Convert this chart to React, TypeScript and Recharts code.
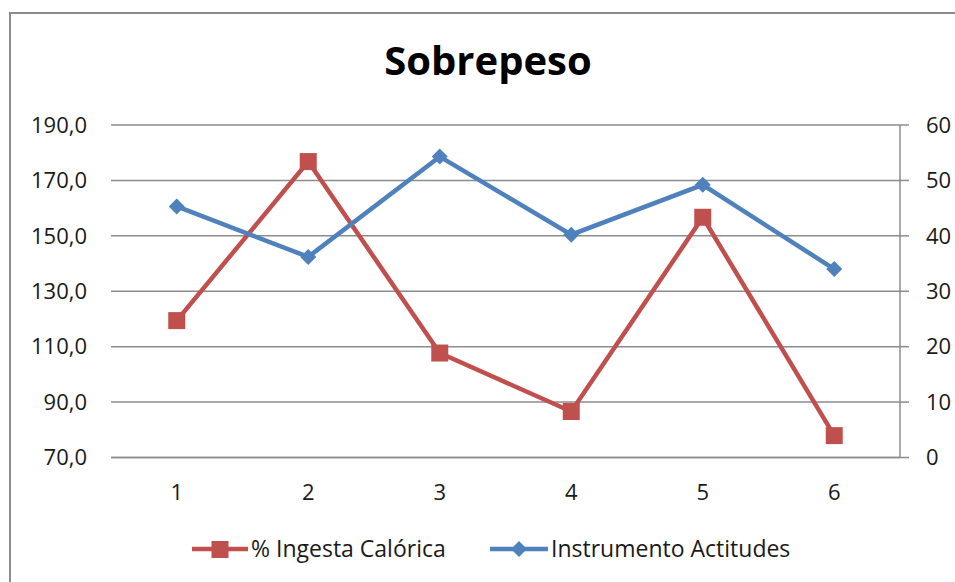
import React from "react";
import { LineChart, Line, XAxis, YAxis, CartesianGrid, Legend } from "recharts";

const categories = ["1", "2", "3", "4", "5", "6"];
const ingesta = [119.4, 176.8, 107.7, 86.6, 156.7, 77.9];
const actitudes = [45.3, 36.2, 54.3, 40.2, 49.2, 34.0];
const leftTicks = [70, 90, 110, 130, 150, 170, 190];
const rightTicks = [0, 10, 20, 30, 40, 50, 60];

const RED = "#C0504D";
const BLUE = "#4F81BD";
const GRID = "#8c8c8c";
const FONT = "'Open Sans', sans-serif";

const data = categories.map((c, i) => ({ cat: c, ingesta: ingesta[i], actitudes: actitudes[i] }));

// eslint-disable-next-line @typescript-eslint/no-explicit-any
function SquareDot({ cx, cy }: any) {
  if (cx == null || cy == null) return null;
  return <rect x={cx - 8.5} y={cy - 8.5} width={17} height={17} fill={RED} />;
}

// eslint-disable-next-line @typescript-eslint/no-explicit-any
function DiamondDot({ cx, cy }: any) {
  if (cx == null || cy == null) return null;
  return <polygon points={`${cx},${cy - 8} ${cx + 8},${cy} ${cx},${cy + 8} ${cx - 8},${cy}`} fill={BLUE} />;
}

function LegendItems() {
  return (
    <div style={{ height: 74.5, position: "relative", fontFamily: FONT, fontSize: 23, color: "#1a1a1a" }}>
      <svg width={60} height={20} style={{ position: "absolute", left: 192, top: 31 }}>
        <line x1={0} y1={10} x2={56} y2={10} stroke={RED} strokeWidth={4.5} />
        <rect x={19.5} y={2} width={17} height={17} fill={RED} />
      </svg>
      <span style={{ position: "absolute", left: 251, top: 25, lineHeight: "30px", whiteSpace: "nowrap" }}>% Ingesta Calórica</span>
      <svg width={60} height={20} style={{ position: "absolute", left: 490, top: 31 }}>
        <line x1={0} y1={10} x2={58} y2={10} stroke={BLUE} strokeWidth={4.5} />
        <polygon points="29,2 37,10 29,18 21,10" fill={BLUE} />
      </svg>
      <span style={{ position: "absolute", left: 551, top: 25, lineHeight: "30px", whiteSpace: "nowrap" }}>Instrumento Actitudes</span>
    </div>
  );
}

export default function App() {
  const tickStyle = { fontFamily: FONT, fontSize: 22, fill: "#1a1a1a" };
  return (
    <div style={{ position: "fixed", left: 0, top: 0, width: 955, height: 582, background: "#fff", overflow: "hidden" }}>
      <div
        style={{
          position: "absolute",
          left: 9,
          top: 12,
          width: 1000,
          height: 700,
          borderLeft: `2px solid ${GRID}`,
          borderTop: `2px solid ${GRID}`,
        }}
      />
      <svg width={955} height={100} style={{ position: "absolute", left: 0, top: 0 }}>
        <text x={488} y={75} textAnchor="middle" fontFamily={FONT} fontWeight={700} fontSize={40} fill="#000">
          Sobrepeso
        </text>
      </svg>
      <div style={{ position: "absolute", left: 0, top: 0 }}>
        <LineChart width={955} height={582} data={data} margin={{ top: 125, right: 0, bottom: 0, left: 0 }}>
          <CartesianGrid yAxisId="left" vertical={false} stroke={GRID} strokeWidth={1.5} />
          <XAxis
            dataKey="cat"
            height={50}
            padding={{ left: 65.75, right: 65.75 }}
            tickSize={0}
            tickMargin={27}
            tickLine={false}
            axisLine={{ stroke: GRID, strokeWidth: 1.5 }}
            tick={tickStyle}
          />
          <YAxis
            yAxisId="left"
            orientation="left"
            width={111}
            domain={[70, 190]}
            ticks={leftTicks}
            tickSize={0}
            tickMargin={24}
            axisLine={false}
            tickLine={false}
            tick={tickStyle}
            tickFormatter={(v: number) => v.toFixed(1).replace(".", ",")}
          />
          <YAxis
            yAxisId="right"
            orientation="right"
            width={55}
            domain={[0, 60]}
            ticks={rightTicks}
            tickSize={9}
            tickMargin={17}
            axisLine={{ stroke: GRID, strokeWidth: 1.5 }}
            tickLine={{ stroke: GRID, strokeWidth: 1.5 }}
            tick={{ ...tickStyle, textAnchor: "start" }}
          />
          <Legend verticalAlign="bottom" content={<LegendItems />} />
          <Line
            yAxisId="left"
            dataKey="ingesta"
            name="% Ingesta Calórica"
            stroke={RED}
            strokeWidth={4.5}
            dot={<SquareDot />}
            activeDot={false}
            isAnimationActive={false}
          />
          <Line
            yAxisId="right"
            dataKey="actitudes"
            name="Instrumento Actitudes"
            stroke={BLUE}
            strokeWidth={4.5}
            dot={<DiamondDot />}
            activeDot={false}
            isAnimationActive={false}
          />
        </LineChart>
      </div>
    </div>
  );
}
